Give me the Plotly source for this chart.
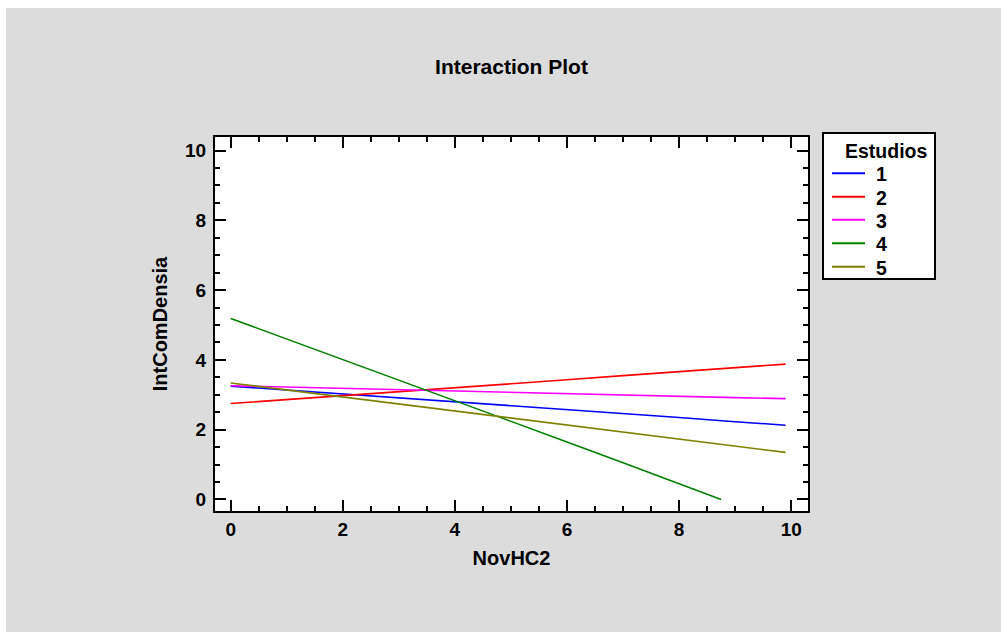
import plotly.graph_objects as go

# ---- data ----
x_main = [0, 1, 2, 3, 4, 5, 6, 7, 8, 9, 9.9]
y_s1 = [3.25, 3.14, 3.02, 2.91, 2.80, 2.69, 2.57, 2.46, 2.35, 2.23, 2.13]
y_s2 = [2.75, 2.86, 2.98, 3.09, 3.21, 3.32, 3.43, 3.55, 3.66, 3.78, 3.88]
y_s3 = [3.26, 3.22, 3.19, 3.15, 3.11, 3.07, 3.04, 3.00, 2.96, 2.92, 2.89]
x_s4 = [0, 1, 2, 3, 4, 5, 6, 7, 8, 8.75]
y_s4 = [5.19, 4.60, 4.02, 3.43, 2.85, 2.25, 1.65, 1.05, 0.45, 0.0]
y_s5 = [3.34, 3.14, 2.94, 2.74, 2.54, 2.33, 2.13, 1.93, 1.73, 1.53, 1.35]

series_names = ["1", "2", "3", "4", "5"]
series_x = [x_main, x_main, x_main, x_s4, x_main]
series_y = [y_s1, y_s2, y_s3, y_s4, y_s5]
series_colors = ["#0000FF", "#FF0000", "#FF00FF", "#008000", "#808000"]

title_text = "Interaction Plot"
x_title = "NovHC2"
y_title = "IntComDensia"
legend_title = "Estudios"
tick_vals = [0, 2, 4, 6, 8, 10]

# ---- layout geometry ----
W, H = 1001, 632
ML, MR, MT, MB = 215, 193, 137, 121
PW, PH = W - ML - MR, H - MT - MB
FONT = "Liberation Sans, Arial, sans-serif"


def px_x(p):
    return (p - ML) / PW


def px_y(p):  # p measured from top of figure
    return (H - p - MB) / PH


fig = go.Figure()
for name, xs, ys, col in zip(series_names, series_x, series_y, series_colors):
    fig.add_trace(go.Scatter(x=xs, y=ys, mode="lines", name=name,
                             showlegend=False,
                             line=dict(color=col, width=1.6)))

shapes = [
    dict(type="rect", xref="paper", yref="paper", layer="below",
         x0=px_x(6), x1=px_x(W + 5), y0=px_y(H + 5), y1=px_y(8),
         fillcolor="#DCDCDC", line=dict(width=0)),
    dict(type="rect", xref="paper", yref="paper", layer="below",
         x0=0, x1=1, y0=0, y1=1, fillcolor="white", line=dict(width=0)),
]
annotations = []

# ---- legend box (drawn manually to match the reference's compact layout) ----
LG_L, LG_R, LG_T, LG_B = 823, 935, 133, 279
shapes.append(dict(type="rect", xref="paper", yref="paper", layer="above",
                   x0=px_x(LG_L), x1=px_x(LG_R), y0=px_y(LG_B), y1=px_y(LG_T),
                   fillcolor="white", line=dict(color="black", width=2)))
annotations.append(dict(text=legend_title, xref="paper", yref="paper",
                        x=px_x(929), y=px_y(151), xanchor="right",
                        yanchor="middle", showarrow=False,
                        font=dict(family=FONT, size=19.5, color="black",
                                  weight="bold")))
row_y = [173.3, 196.7, 219.8, 243.3, 266.7]
for name, col, ry in zip(series_names, series_colors, row_y):
    shapes.append(dict(type="line", xref="paper", yref="paper", layer="above",
                       x0=px_x(832), x1=px_x(865), y0=px_y(ry), y1=px_y(ry),
                       line=dict(color=col, width=2)))
    annotations.append(dict(text=name, xref="paper", yref="paper",
                            x=px_x(874), y=px_y(ry + 1), xanchor="left",
                            yanchor="middle", showarrow=False,
                            font=dict(family=FONT, size=19.5, color="black",
                                      weight="bold")))

axis_common = dict(
    showgrid=False, zeroline=False, showline=True, linecolor="black",
    linewidth=2, mirror="allticks", ticks="inside", ticklen=11,
    tickwidth=2, tickcolor="black",
    tickfont=dict(family=FONT, size=19, color="black", weight="bold"),
    tickvals=tick_vals,
    minor=dict(dtick=0.5, ticks="inside", ticklen=5, tickwidth=2,
               tickcolor="black"),
)

fig.update_layout(
    width=W, height=H,
    margin=dict(l=ML, r=MR, t=MT, b=MB),
    paper_bgcolor="white", plot_bgcolor="white",
    shapes=shapes,
    annotations=annotations,
    title=dict(text=title_text, x=0.5, xanchor="center",
               y=(H - 67) / H, yanchor="middle",
               xref="paper", yref="container",
               font=dict(family=FONT, size=21, color="black", weight="bold")),
    xaxis=dict(range=[-0.28, 10.3],
               title=dict(text=x_title, standoff=12,
                          font=dict(family=FONT, size=20, color="black",
                                    weight="bold")),
               **axis_common),
    yaxis=dict(range=[-0.33, 10.39], ticklabelstandoff=3,
               title=dict(text=y_title, standoff=12,
                          font=dict(family=FONT, size=20, color="black",
                                    weight="bold")),
               **axis_common),
    showlegend=False,
)

fig.write_html("out.html")
